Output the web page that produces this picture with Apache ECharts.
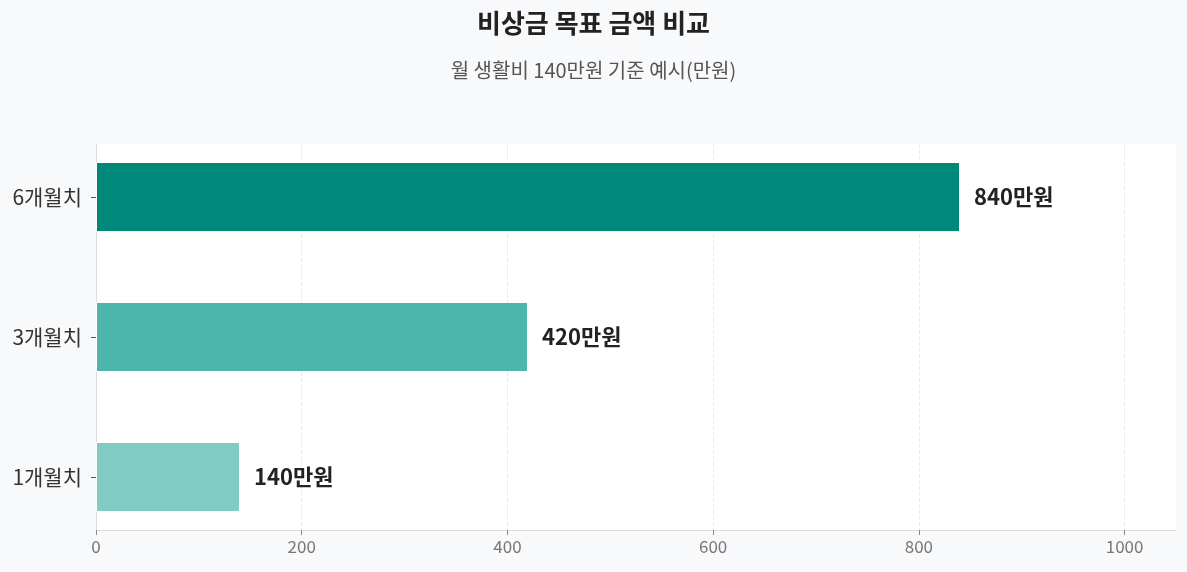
<!DOCTYPE html>
<html><head><meta charset="utf-8">
<script src="https://cdn.jsdelivr.net/npm/echarts@6/dist/echarts.min.js"></script>
<style>html,body{margin:0;padding:0;background:#f8f9fb;}#c{width:1187px;height:572px;}</style>
</head><body><div id="c"></div>
<script>
const categories = ['1개월치', '3개월치', '6개월치'];
const values = [140, 420, 840];
const barColors = ['#80CBC4', '#4DB6AC', '#00897B'];
const xTicks = [0, 200, 400, 600, 800, 1000];

const chart = echarts.init(document.getElementById('c'));
chart.setOption({
  backgroundColor: '#f8f9fb',
  title: {
    text: '비상금 목표 금액 비교',
    subtext: '월 생활비 140만원 기준 예시(만원)',
    left: 'center', top: 5,
    textStyle: { fontFamily: 'Noto Sans CJK KR', fontSize: 26, fontWeight: 'bold', color: '#222' },
    subtextStyle: { fontFamily: 'Noto Sans CJK KR', fontSize: 20, color: '#555' },
    itemGap: 24
  },
  grid: [
    { left: 96, right: 11, top: 144, bottom: 42, show: true, backgroundColor: '#ffffff', borderWidth: 0 },
    { left: 96, right: 11, top: 127, bottom: 25, show: false }
  ],
  xAxis: [{
    gridIndex: 0, type: 'value', min: 0, max: 1050,
    axisLine: { show: true, lineStyle: { color: '#dddddd' } },
    axisTick: { show: true, customValues: xTicks, lineStyle: { color: '#888' } },
    axisLabel: { fontFamily: 'Noto Sans CJK KR', fontSize: 17, color: '#777', customValues: xTicks, formatter: v => String(v) },
    splitLine: { show: true, lineStyle: { type: 'dashed', color: '#eaeaea' } }
  }, {
    gridIndex: 1, type: 'value', min: 0, max: 1050, show: false
  }],
  yAxis: [{
    gridIndex: 0, type: 'value', min: 0, max: 1,
    axisLine: { show: true, lineStyle: { color: '#dddddd' } },
    axisTick: { show: false }, axisLabel: { show: false }, splitLine: { show: false }
  }, {
    gridIndex: 1, type: 'category', data: categories,
    axisLine: { show: false },
    axisTick: { show: true, alignWithLabel: true, length: 5, lineStyle: { color: '#555' } },
    axisLabel: { fontFamily: 'Noto Sans CJK KR', fontSize: 21, color: '#333', margin: 14 }
  }],
  series: [{
    type: 'bar', xAxisIndex: 1, yAxisIndex: 1, barWidth: 70,
    data: values.map((v, i) => ({ value: v, itemStyle: { color: barColors[i] } })),
    itemStyle: { borderColor: '#ffffff', borderWidth: 1 },
    label: { show: true, position: 'right', distance: 14, formatter: p => p.value + '만원',
      fontFamily: 'Noto Sans CJK KR', fontSize: 22, fontWeight: 'bold', color: '#222' }
  }]
});
</script></body></html>
